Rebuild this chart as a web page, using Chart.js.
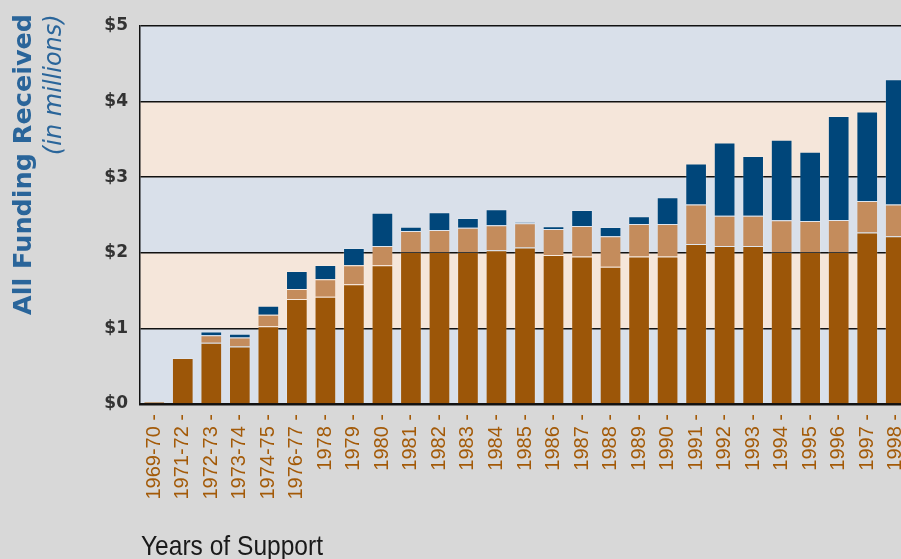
<!DOCTYPE html>
<html>
<head>
<meta charset="utf-8">
<script src="https://cdn.jsdelivr.net/npm/chart.js@4.4.1/dist/chart.umd.min.js"></script>
<style>
  html, body { margin: 0; padding: 0; background: #d8d8d8; overflow: hidden; }
  #wrap { width: 910px; height: 559px; }
</style>
</head>
<body>
<div id="wrap"><canvas id="fundingChart" width="910" height="559"></canvas></div>
<script>
const years = ['1969-70', '1971-72', '1972-73', '1973-74', '1974-75', '1976-77', '1978', '1979', '1980',
  '1981', '1982', '1983', '1984', '1985', '1986', '1987', '1988', '1989', '1990', '1991', '1992',
  '1993', '1994', '1995', '1996', '1997', '1998'];

// bottom segment (dark brown), millions
const darkPart = [0.03, 0.61, 0.81, 0.76, 1.03, 1.39, 1.42, 1.585, 1.835, 2.01, 2.01, 2.01, 2.035, 2.07,
  1.97, 1.95, 1.815, 1.95, 1.95, 2.115, 2.09, 2.09, 2.01, 2.01, 2.01, 2.27, 2.22];
// middle segment (light brown)
const lightPart = [0, 0, 0.10, 0.12, 0.15, 0.13, 0.23, 0.25, 0.255, 0.28, 0.29, 0.32, 0.33, 0.32,
  0.345, 0.405, 0.405, 0.43, 0.43, 0.525, 0.40, 0.40, 0.42, 0.41, 0.425, 0.415, 0.42];
// top segment (blue)
const bluePart = [0, 0, 0.05, 0.05, 0.12, 0.24, 0.19, 0.23, 0.44, 0.055, 0.235, 0.13, 0.21, 0.015,
  0.035, 0.21, 0.12, 0.105, 0.355, 0.54, 0.97, 0.79, 1.065, 0.915, 1.375, 1.185, 1.655];

const yTicks = [0, 1, 2, 3, 4, 5];

const bandBlue = '#d9e0ea';
const bandBeige = '#f5e6da';

// page background + alternating horizontal bands inside the plot
const bands = {
  id: 'bands',
  beforeDraw(chart) {
    const { ctx, chartArea, scales } = chart;
    ctx.save();
    ctx.fillStyle = '#d8d8d8';
    ctx.fillRect(0, 0, chart.width, chart.height);
    for (let i = 0; i < yTicks.length - 1; i++) {
      const yTop = scales.y.getPixelForValue(yTicks[i + 1]);
      const yBot = scales.y.getPixelForValue(yTicks[i]);
      ctx.fillStyle = i % 2 === 0 ? bandBlue : bandBeige;
      ctx.fillRect(chartArea.left, yTop, chartArea.right - chartArea.left, yBot - yTop);
    }
    ctx.restore();
  }
};

// axis titles placed like the original (top aligned, two fonts)
const titles = {
  id: 'titles',
  afterDraw(chart) {
    const ctx = chart.ctx;
    ctx.save();
    ctx.fillStyle = '#2a659a';
    ctx.textAlign = 'left';
    ctx.textBaseline = 'alphabetic';

    ctx.save();
    ctx.translate(31, 315);
    ctx.rotate(-Math.PI / 2);
    ctx.font = 'bold 25.5px "DejaVu Sans"';
    ctx.fillText('All Funding Received', 0, 0);
    ctx.restore();

    ctx.save();
    ctx.translate(61, 155);
    ctx.rotate(-Math.PI / 2);
    ctx.font = 'italic 24px "DejaVu Sans"';
    ctx.fillText('(in millions)', 0, 0);
    ctx.restore();

    ctx.fillStyle = '#1a1a1a';
    ctx.font = '28px "Liberation Sans Narrow", "Liberation Sans"';
    const txt = 'Years of Support';
    const w = ctx.measureText(txt).width;
    ctx.translate(141, 555);
    ctx.scale(Math.min(1, 182 / w), 1);
    ctx.fillText(txt, 0, 0);
    ctx.restore();
  }
};

const ctx = document.getElementById('fundingChart').getContext('2d');
const fundingChart = new Chart(ctx, {
  type: 'bar',
  data: {
    labels: years,
    datasets: [
      { label: 'dark', data: darkPart, backgroundColor: '#9c5608' },
      { label: 'light', data: lightPart, backgroundColor: '#c48c5c' },
      { label: 'blue', data: bluePart, backgroundColor: '#00467a' }
    ]
  },
  plugins: [bands, titles],
  options: {
    responsive: false,
    animation: false,
    layout: { padding: { top: 26, left: 0, right: 0, bottom: 0 } },
    datasets: {
      bar: {
        barPercentage: 0.76,
        categoryPercentage: 1.0,
        borderWidth: 1,
        borderColor: 'rgba(255,255,255,0.16)'
      }
    },
    plugins: {
      legend: { display: false },
      tooltip: { enabled: false }
    },
    scales: {
      x: {
        stacked: true,
        afterFit(scale) {
          scale.height = 155;
          scale.paddingLeft = 0;
          scale.paddingRight = 0;
        },
        grid: { drawOnChartArea: false, drawTicks: false },
        border: { display: true, color: '#111', width: 2.5 },
        ticks: {
          autoSkip: false,
          maxRotation: 90,
          minRotation: 90,
          padding: 10,
          color: '#a35a08',
          font: { family: '"Liberation Sans", Arial', size: 20 },
          callback(value) { return this.getLabelForValue(value) + ' -'; }
        }
      },
      y: {
        stacked: true,
        min: 0,
        max: 5,
        afterFit(scale) { scale.width = 140; },
        afterBuildTicks(scale) { scale.ticks = yTicks.map(v => ({ value: v })); },
        grid: {
          color: '#111',
          lineWidth: 1.5,
          drawTicks: false
        },
        border: { display: true, color: '#111', width: 1.5 },
        ticks: {
          padding: 12,
          color: '#333',
          font: { family: '"DejaVu Sans"', size: 17, weight: 'bold' },
          callback(value) { return '$' + value; }
        }
      }
    }
  }
});
</script>
</body>
</html>
